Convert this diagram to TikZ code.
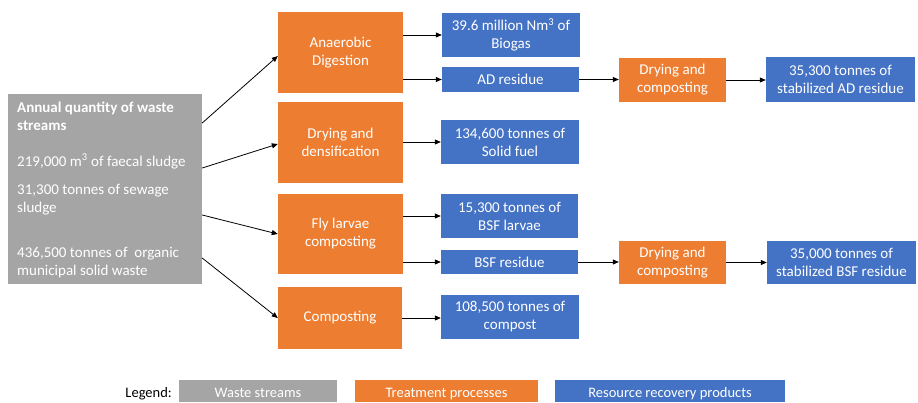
\documentclass[tikz,border=0pt]{standalone}
\usepackage{fontspec}
\setmainfont{Carlito}
\usetikzlibrary{arrows.meta}
\definecolor{wastegray}{HTML}{A5A5A5}
\definecolor{procorange}{HTML}{ED7D31}
\definecolor{prodblue}{HTML}{4472C4}

\begin{document}
\begin{tikzpicture}[x=1pt,y=-1pt,
  box/.style={inner sep=0pt, text=white, align=center, font=\fontsize{15}{18}\selectfont},
  waste/.style={box, fill=wastegray},
  proc/.style={box, fill=procorange},
  prod/.style={box, fill=prodblue},
  flow/.style={draw=black, line width=0.8pt, -{Triangle[length=6pt,width=5pt]}},
  wline/.style={anchor=base west, inner sep=0pt, text=white, font=\fontsize{15}{18}\selectfont},
  legbox/.style={inner sep=0pt, text height=17pt, text depth=5pt, text=white, font=\fontsize{14.5}{17}\selectfont}
]
\useasboundingbox (0,0) rectangle (918,402);

% waste streams
\node[waste, minimum width=194pt, minimum height=190pt] (ws) at (105,189) {};
\node[wline] (ws1) at (17,112) {\bfseries Annual quantity of waste};
\node[wline] (ws2) at (17,130) {\bfseries streams};
\node[wline] (ws3) at (17,166) {219,000 m\textsuperscript{3} of faecal sludge};
\node[wline] (ws4) at (17,194) {31,300 tonnes of sewage};
\node[wline] (ws5) at (17,212) {sludge};
\node[wline] (ws6) at (17,257) {436,500 tonnes of\ \ organic};
\node[wline] (ws7) at (17,275) {municipal solid waste};

% treatment processes
\node[proc, minimum width=125pt, minimum height=81pt] (ad) at (340.5,52.5) {Anaerobic\\Digestion};
\node[proc, minimum width=125pt, minimum height=81pt] (dd) at (340.5,142.5) {Drying and\\densification};
\node[proc, minimum width=125pt, minimum height=80pt] (fl) at (340.5,234) {Fly larvae\\composting};
\node[proc, minimum width=124pt, minimum height=62pt] (co) at (340,318) {Composting};
\node[proc, minimum width=107pt, minimum height=44pt] (dc1) at (672.5,80) {Drying and\\composting};
\node[proc, minimum width=107pt, minimum height=43pt] (dc2) at (672.5,262.5) {Drying and\\composting};

% resource recovery products
\node[prod, minimum width=138pt, minimum height=44pt] (biogas) at (511,35) {39.6 million Nm\textsuperscript{3} of\\Biogas};
\node[prod, minimum width=137pt, minimum height=25pt] (adres) at (510.5,79.5) {AD residue};
\node[prod, minimum width=138pt, minimum height=44pt] (fuel) at (510,142) {134,600 tonnes of\\Solid fuel};
\node[prod, minimum width=137pt, minimum height=44pt] (larvae) at (509.5,216) {15,300 tonnes of\\BSF larvae};
\node[prod, minimum width=137pt, minimum height=24pt] (bsfres) at (509.5,262) {BSF residue};
\node[prod, minimum width=138pt, minimum height=44pt] (compost) at (510,317) {108,500 tonnes of\\compost};
\node[prod, minimum width=149pt, minimum height=45pt] (stab1) at (840.5,79.5) {35,300 tonnes of\\stabilized AD residue};
\node[prod, minimum width=149pt, minimum height=43pt] (stab2) at (841.5,262.5) {35,000 tonnes of\\stabilized BSF residue};

% flows from the waste streams
\draw[flow] ([yshift=66pt]ws.east) -- ([yshift=-3.5pt]ad.west);
\draw[flow] ([yshift=21pt]ws.east) -- ([yshift=-1.5pt]dd.west);
\draw[flow] ([yshift=-26pt]ws.east) -- (fl.west);
\draw[flow] ([yshift=-69pt]ws.east) -- (co.west);

% flows from the processes
\draw[flow] (ad.east |- biogas.west) -- (biogas.west);
\draw[flow] (ad.east |- adres.west) -- (adres.west);
\draw[flow] (dd.east |- fuel.west) -- (fuel.west);
\draw[flow] (fl.east |- larvae.west) -- (larvae.west);
\draw[flow] (fl.east |- bsfres.west) -- (bsfres.west);
\draw[flow] (co.east) -- (compost.west |- co.east);
\draw[flow] (adres.east) -- (dc1.west |- adres.east);
\draw[flow] (dc1.east) -- (stab1.west |- dc1.east);
\draw[flow] (bsfres.east) -- (dc2.west |- bsfres.east);
\draw[flow] (dc2.east) -- (stab2.west |- dc2.east);

% legend
\node[anchor=base east, inner sep=0pt, font=\fontsize{14.5}{17}\selectfont] (legend) at (172,397) {Legend:};
\node[legbox, fill=wastegray, minimum width=158pt] (lgw) at (258,391) {Waste streams};
\node[legbox, fill=procorange, minimum width=183pt] (lgp) at (446.5,391) {Treatment processes};
\node[legbox, fill=prodblue, minimum width=230pt] (lgr) at (670,391) {Resource recovery products};
\end{tikzpicture}
\end{document}
